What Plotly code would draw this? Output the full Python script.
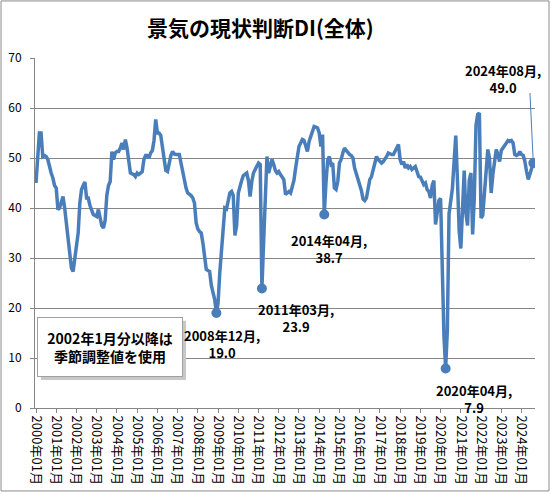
import plotly.graph_objects as go

# 景気ウォッチャー調査 現状判断DI(全体) 月次
v2000 = [45.0, 50.0, 55.0, 55.0, 50.3, 50.5, 50.3, 49.7, 48.0, 47.0, 46.0, 44.5]
v2001 = [44.0, 39.7, 40.0, 41.5, 42.3, 40.0, 36.7, 33.3, 30.0, 28.0, 27.3, 30.0]
v2002 = [33.5, 35.0, 41.0, 43.7, 44.5, 45.2, 42.0, 42.0, 40.5, 39.3, 38.7, 38.5]
v2003 = [38.3, 39.7, 37.7, 36.5, 36.0, 37.5, 42.5, 44.5, 45.3, 51.3, 49.7, 51.0]
v2004 = [51.3, 51.3, 52.0, 53.0, 51.7, 53.7, 52.0, 50.0, 47.0, 46.8, 46.7, 46.3]
v2005 = [47.0, 46.7, 47.0, 47.3, 49.7, 50.5, 50.5, 50.0, 51.0, 51.5, 53.5, 57.7]
v2006 = [55.0, 55.0, 54.5, 52.0, 49.0, 47.5, 47.3, 49.0, 50.5, 51.3, 50.8, 50.7]
v2007 = [50.7, 50.7, 49.0, 47.0, 45.5, 44.0, 43.0, 42.8, 42.5, 42.0, 41.0, 37.0]
v2008 = [35.8, 35.3, 35.0, 33.0, 30.0, 27.7, 27.5, 27.3, 24.5, 23.3, 21.7, 19.0]
v2009 = [21.0, 27.0, 31.5, 36.0, 40.0, 39.8, 41.5, 43.0, 43.3, 42.5, 34.5, 36.5]
v2010 = [43.0, 44.5, 45.5, 46.5, 46.7, 47.0, 45.5, 42.3, 45.3, 47.0, 47.7, 48.3]
v2011 = [49.0, 48.7, 23.9, 33.0, 44.0, 50.3, 47.0, 48.5, 49.7, 48.7, 47.5, 47.0]
v2012 = [47.3, 46.7, 46.2, 45.7, 42.7, 43.0, 43.3, 43.0, 44.0, 45.5, 48.0, 50.7]
v2013 = [52.3, 53.0, 53.7, 53.5, 52.5, 51.3, 53.3, 54.5, 55.3, 56.3, 56.2, 56.0]
v2014 = [55.0, 52.3, 54.7, 38.7, 45.0, 49.5, 50.3, 48.7, 49.0, 44.0, 43.7, 45.3]
v2015 = [49.0, 49.7, 51.0, 52.0, 51.5, 51.0, 50.7, 50.5, 50.0, 48.0, 47.0, 46.0]
v2016 = [45.0, 43.5, 41.8, 41.5, 42.0, 44.0, 45.7, 46.3, 47.5, 48.7, 50.3, 49.7]
v2017 = [49.2, 49.0, 49.3, 49.7, 50.3, 51.0, 50.8, 50.7, 50.7, 51.5, 52.3, 52.7]
v2018 = [49.7, 48.7, 49.3, 48.0, 48.7, 48.0, 48.3, 47.7, 48.0, 48.3, 47.3, 46.3]
v2019 = [46.2, 45.3, 44.7, 45.0, 43.7, 43.3, 42.0, 44.5, 45.5, 36.7, 38.7, 41.5]
v2020 = [41.9, 27.4, 14.2, 7.9, 15.5, 38.8, 41.1, 43.9, 49.3, 54.5, 45.6, 35.5]
v2021 = [31.9, 41.3, 47.5, 39.0, 36.5, 45.5, 47.0, 34.7, 42.1, 56.5, 58.7, 59.0]
v2022 = [38.0, 38.5, 43.5, 47.5, 51.7, 50.0, 43.0, 46.7, 49.5, 51.7, 50.7, 49.3]
v2023 = [51.5, 52.0, 52.7, 53.3, 53.5, 53.3, 53.5, 53.0, 50.7, 50.5, 50.7, 51.3]
v2024 = [50.7, 50.5, 49.3, 47.3, 45.7, 46.8, 47.8, 49.0]

values = (v2000 + v2001 + v2002 + v2003 + v2004 + v2005 + v2006 + v2007 + v2008
          + v2009 + v2010 + v2011 + v2012 + v2013 + v2014 + v2015 + v2016 + v2017
          + v2018 + v2019 + v2020 + v2021 + v2022 + v2023 + v2024)
months = [f"{y}年{m:02d}月" for y in range(2000, 2025) for m in range(1, 13)][:len(values)]
tick_months = [f"{y}年01月" for y in range(2000, 2025)]

# 値ラベルを付ける月
mark_months = ["2008年12月", "2011年03月", "2014年04月", "2020年04月", "2024年08月"]
mark_values = [values[months.index(m)] for m in mark_months]

BLUE = "#4a7ebb"
GRAY = "#868686"
FONT = "Noto Sans CJK JP"

fig = go.Figure()
fig.add_trace(go.Scatter(x=months, y=values, mode="lines",
                         line=dict(color=BLUE, width=3.5), hoverinfo="x+y"))
fig.add_trace(go.Scatter(x=mark_months, y=mark_values, mode="markers",
                         marker=dict(color=BLUE, size=10), hoverinfo="skip"))

# ラベル位置 (点からのずれ px)
shifts = [(6, -11, "top"), (34, -9, "top"), (5, -14, "top"), (28, -10, "top"), (-30, 104, "top")]
for m, v, (dx, dy, ya) in zip(mark_months, mark_values, shifts):
    fig.add_annotation(x=m, y=v, xref="x", yref="y", showarrow=False,
                       text=f"<b>{m},<br>{v:.1f}</b>", xshift=dx, yshift=dy,
                       xanchor="center", yanchor=ya,
                       font=dict(family=FONT, size=13, color="black"))

last = len(values) - 1
fig.add_shape(type="line", xref="x", yref="y", x0=last - 2, y0=values[last] + 14,
              x1=last, y1=values[last], line=dict(color=BLUE, width=1))

# タイトル
fig.add_annotation(xref="paper", yref="paper", x=0.45, y=1.089, showarrow=False,
                   text="<b>景気の現状判断DI(全体)</b>", xanchor="center", yanchor="middle",
                   font=dict(family=FONT, size=21, color="black"))

# 注記ボックス
fig.add_shape(type="rect", xref="paper", yref="paper", x0=0.012, x1=0.302, y0=0.08, y1=0.249,
              fillcolor="#c8c8c8", line=dict(width=0), layer="above")
fig.add_annotation(xref="paper", yref="paper", x=0.15, y=0.173, showarrow=False,
                   text="<b>2002年1月分以降は<br>季節調整値を使用</b>",
                   xanchor="center", yanchor="middle", align="center",
                   width=132, height=46, borderpad=6, bgcolor="white",
                   bordercolor="#a0a0a0", borderwidth=1,
                   font=dict(family=FONT, size=14, color="black"))

# 外枠
fig.add_shape(type="rect", xref="paper", yref="paper", x0=-0.068, x1=1.028, y0=-0.237, y1=1.163,
              line=dict(color="#8c8c8c", width=1))

fig.update_layout(
    width=551, height=494,
    margin=dict(l=35, r=16, t=58, b=86),
    paper_bgcolor="white", plot_bgcolor="white",
    showlegend=False,
    font=dict(family=FONT, color="black"),
    xaxis=dict(type="category", range=[-0.6, 296.0], tickmode="array",
               tickvals=tick_months, ticktext=tick_months, tickangle=90,
               ticks="outside", ticklen=4, tickcolor=GRAY, automargin=False,
               showline=True, linecolor=GRAY, showgrid=False,
               tickfont=dict(family=FONT, size=13, color="black")),
    yaxis=dict(range=[0, 70], dtick=10, showgrid=True, gridcolor=GRAY, gridwidth=1,
               showline=True, linecolor=GRAY, ticks="outside", ticklen=4, tickcolor=GRAY,
               zeroline=False, ticklabelstandoff=6, automargin=False,
               tickfont=dict(family=FONT, size=12, color="black")),
)

# ページ余白をなくして 551x494 にぴったり収める
fig.write_html("out.html", config={"displayModeBar": False},
               post_script="document.body.style.margin='0';")
